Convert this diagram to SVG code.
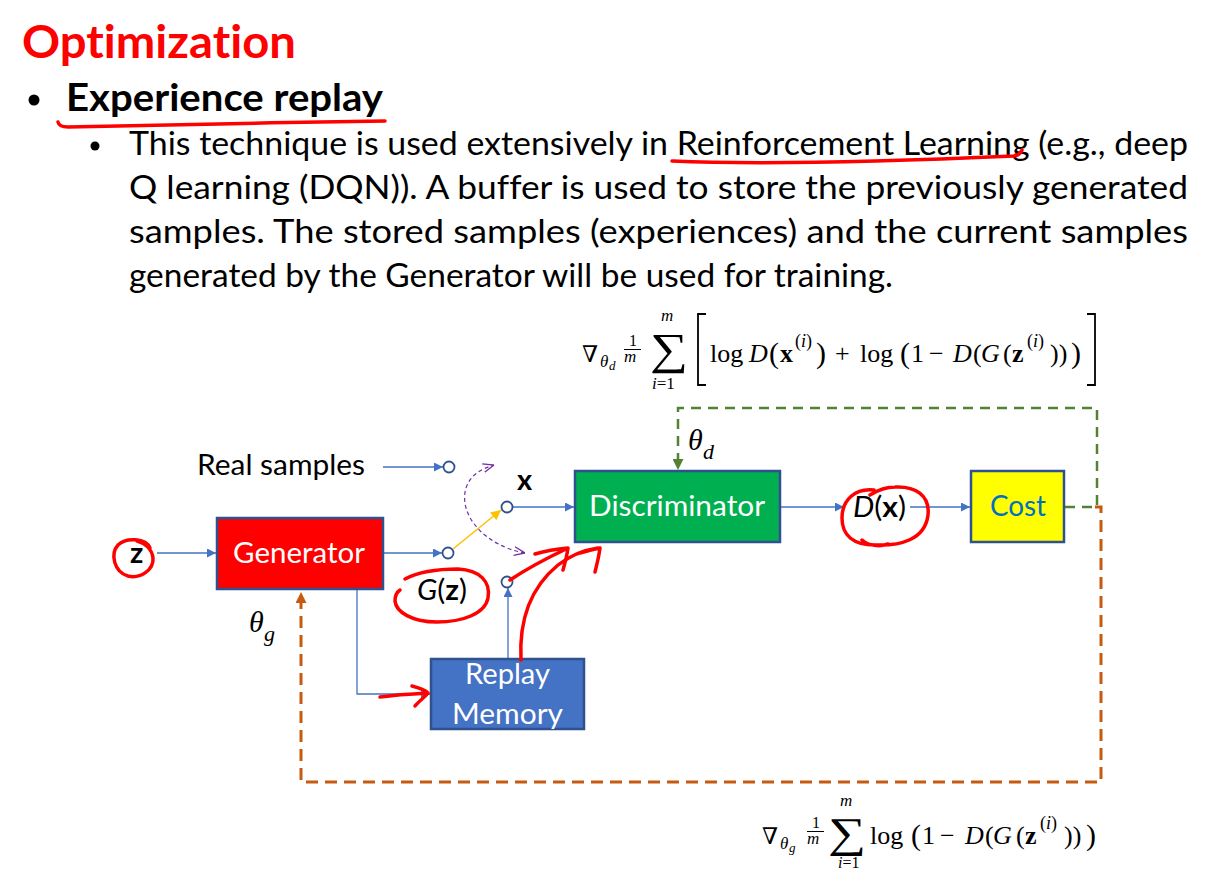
<svg xmlns="http://www.w3.org/2000/svg" width="1224" height="872" viewBox="0 0 1224 872">
<defs>
<style>
.t{font-family:Lato,"Liberation Sans",sans-serif;font-variant-ligatures:none}
.body{font-size:32px;fill:#000}
.lbl{font-size:29px}
.w{fill:#fff}
.m{font-family:"Liberation Serif","DejaVu Serif",serif;fill:#000}
.i{font-style:italic}
.b{font-weight:bold}
.box{stroke:#2F528F;stroke-width:2.5}
.ln{stroke:#4472C4;stroke-width:1.3;fill:none}
.pt{fill:#fff;stroke:#2F528F;stroke-width:1.8}
.ink{fill:none;stroke:#FF0000;stroke-width:3.5;stroke-linecap:round;stroke-linejoin:round}
</style>
<marker id="ab" viewBox="0 0 10 10" refX="10" refY="5" markerWidth="10" markerHeight="9" markerUnits="userSpaceOnUse" orient="auto"><path d="M0,0 L10,5 L0,10 z" fill="#4472C4"/></marker>
<marker id="ay" viewBox="0 0 10 10" refX="10" refY="5" markerWidth="11" markerHeight="10" markerUnits="userSpaceOnUse" orient="auto"><path d="M0,0 L10,5 L0,10 z" fill="#FFC000"/></marker>
<marker id="ag" viewBox="0 0 10 10" refX="10" refY="5" markerWidth="11" markerHeight="11" markerUnits="userSpaceOnUse" orient="auto"><path d="M0,0 L10,5 L0,10 z" fill="#548235"/></marker>
<marker id="ao" viewBox="0 0 10 10" refX="10" refY="5" markerWidth="11" markerHeight="11" markerUnits="userSpaceOnUse" orient="auto"><path d="M0,0 L10,5 L0,10 z" fill="#C55A11"/></marker>
<marker id="ap" viewBox="0 0 10 10" refX="10" refY="5" markerWidth="11" markerHeight="11" markerUnits="userSpaceOnUse" orient="auto-start-reverse"><path d="M0,1 L10,5 L0,9" fill="none" stroke="#7030A0" stroke-width="1.2" stroke-dasharray="none"/></marker>
</defs>
<rect width="1224" height="872" fill="#fff"/>

<g id="header">
<text class="t" x="22" y="58" font-size="46" font-weight="bold" fill="#FF0000" textLength="274" lengthAdjust="spacingAndGlyphs">Optimization</text>
<circle cx="34" cy="100" r="5.5" fill="#000"/>
<text class="t" x="66" y="111" font-size="38" font-weight="bold" fill="#000" textLength="317" lengthAdjust="spacingAndGlyphs">Experience replay</text>
<path class="ink" d="M58,122 Q59,127 68,127 C150,126 280,122 385,121" stroke-width="2.5"/>
<circle cx="95" cy="146" r="4.5" fill="#000"/>
<text class="t body" x="129" y="155" textLength="1059" lengthAdjust="spacingAndGlyphs">This technique is used extensively in Reinforcement Learning (e.g., deep</text>
<text class="t body" x="129" y="199" textLength="1059" lengthAdjust="spacingAndGlyphs">Q learning (DQN)). A buffer is used to store the previously generated</text>
<text class="t body" x="129" y="243" textLength="1059" lengthAdjust="spacingAndGlyphs">samples. The stored samples (experiences) and the current samples</text>
<text class="t body" x="129" y="287" textLength="764" lengthAdjust="spacingAndGlyphs">generated by the Generator will be used for training.</text>
<path class="ink" d="M672,161 C760,165 900,161 1014,156 Q1020,155 1022,150" stroke-width="2.5"/>
</g>

<g id="formula-d" class="m">
<text font-size="26">
<tspan x="582" y="362" font-size="23">∇</tspan>
<tspan x="600" y="367" font-size="17" class="i">θ</tspan>
<tspan x="609" y="370" font-size="13" class="i">d</tspan>
<tspan x="629" y="346" font-size="16">1</tspan>
<tspan x="624" y="362" font-size="17" class="i">m</tspan>
<tspan x="661" y="321" font-size="17" class="i">m</tspan>
<tspan x="652" y="389" font-size="17"><tspan class="i">i</tspan>=1</tspan>
<tspan x="710" y="362">log</tspan>
<tspan x="749" y="362" class="i">D</tspan>
<tspan x="769" y="363" font-size="30">(</tspan>
<tspan x="780" y="362" class="b">x</tspan>
<tspan x="795" y="347" font-size="18">(<tspan class="i">i</tspan>)</tspan>
<tspan x="816" y="363" font-size="30">)</tspan>
<tspan x="835" y="362">+</tspan>
<tspan x="860" y="362">log</tspan>
<tspan x="900" y="363" font-size="30">(</tspan>
<tspan x="911" y="362">1</tspan>
<tspan x="929" y="362">−</tspan>
<tspan x="953" y="362" class="i">D</tspan>
<tspan x="973" y="362">(</tspan>
<tspan x="981" y="362" class="i">G</tspan>
<tspan x="1003" y="362">(</tspan>
<tspan x="1012" y="362" class="b">z</tspan>
<tspan x="1027" y="347" font-size="18">(<tspan class="i">i</tspan>)</tspan>
<tspan x="1050" y="362">))</tspan>
<tspan x="1071" y="363" font-size="30">)</tspan>
</text>
<line x1="624" y1="349.5" x2="641" y2="349.5" stroke="#000" stroke-width="1"/>
<text x="650" y="364" font-size="44" textLength="38" lengthAdjust="spacingAndGlyphs">∑</text>
<path d="M706,314 H698 V385 H706 M1087,314 H1095 V385 H1087" fill="none" stroke="#000" stroke-width="1.8"/>
</g>

<g id="formula-g" class="m">
<text font-size="26">
<tspan x="762" y="844" font-size="23">∇</tspan>
<tspan x="780" y="849" font-size="17" class="i">θ</tspan>
<tspan x="789" y="852" font-size="13" class="i">g</tspan>
<tspan x="812" y="828" font-size="16">1</tspan>
<tspan x="807" y="844" font-size="17" class="i">m</tspan>
<tspan x="840" y="806" font-size="17" class="i">m</tspan>
<tspan x="838" y="868" font-size="16"><tspan class="i">i</tspan>=1</tspan>
<tspan x="870" y="844">log</tspan>
<tspan x="911" y="845" font-size="30">(</tspan>
<tspan x="922" y="844">1</tspan>
<tspan x="940" y="844">−</tspan>
<tspan x="965" y="844" class="i">D</tspan>
<tspan x="985" y="844">(</tspan>
<tspan x="993" y="844" class="i">G</tspan>
<tspan x="1016" y="844">(</tspan>
<tspan x="1025" y="844" class="b">z</tspan>
<tspan x="1040" y="829" font-size="18">(<tspan class="i">i</tspan>)</tspan>
<tspan x="1064" y="844">))</tspan>
<tspan x="1086" y="845" font-size="30">)</tspan>
</text>
<line x1="807" y1="831.5" x2="824" y2="831.5" stroke="#000" stroke-width="1"/>
<text x="828" y="847" font-size="42" textLength="38" lengthAdjust="spacingAndGlyphs">∑</text>
</g>

<g id="connectors">
<line class="ln" x1="157" y1="553" x2="216" y2="553" marker-end="url(#ab)"/>
<line class="ln" x1="383" y1="553" x2="442" y2="553" marker-end="url(#ab)"/>
<line class="ln" x1="383" y1="467" x2="443" y2="467" marker-end="url(#ab)"/>
<line x1="453" y1="549" x2="501" y2="510" stroke="#FFC000" stroke-width="1.5" marker-end="url(#ay)"/>
<line class="ln" x1="513" y1="507" x2="574" y2="507" marker-end="url(#ab)"/>
<line class="ln" x1="508" y1="659" x2="508" y2="588" marker-end="url(#ab)"/>
<polyline class="ln" points="357,589 357,694 430,694" marker-end="url(#ab)"/>
<line class="ln" x1="780" y1="507" x2="844" y2="507" marker-end="url(#ab)"/>
<line class="ln" x1="910" y1="507" x2="970" y2="507" marker-end="url(#ab)"/>
<path d="M1065,507 H1097 V408 H678 V470" fill="none" stroke="#548235" stroke-width="2.5" stroke-dasharray="10 7" marker-end="url(#ag)"/>
<path d="M1095,507 H1101 V782 H301 V592" fill="none" stroke="#C55A11" stroke-width="3" stroke-dasharray="12 7" marker-end="url(#ao)"/>
<path d="M525,553 C485,546 458,515 466,488 C470,476 480,469 494,465" fill="none" stroke="#7030A0" stroke-width="1.2" stroke-dasharray="4 3" marker-start="url(#ap)" marker-end="url(#ap)"/>
</g>

<g id="real-samples"><text class="t lbl" x="197" y="475" textLength="168" lengthAdjust="spacingAndGlyphs">Real samples</text></g>
<g id="switch-real"><circle class="pt" cx="449" cy="467" r="5.5"/></g>
<g id="switch-fake"><circle class="pt" cx="448" cy="553" r="5.5"/></g>
<g id="switch-x"><circle class="pt" cx="507" cy="507" r="5.5"/><text class="t lbl b" x="517" y="490">x</text></g>
<g id="switch-replay"><circle class="pt" cx="507" cy="582" r="5.5"/></g>

<g id="z"><text class="t lbl b" x="130" y="563">z</text>
<path class="ink" d="M150,548 C146,538 126,537 118,545 C110,554 114,572 128,576 C140,579 154,570 153,558 C152,549 145,543 137,541"/></g>

<g id="generator"><rect class="box" x="217" y="518" width="166" height="71" fill="#FF0000"/>
<text class="t lbl w" x="233" y="563" textLength="132" lengthAdjust="spacingAndGlyphs">Generator</text></g>

<g id="gz"><text class="t lbl" x="417" y="600" textLength="50" lengthAdjust="spacingAndGlyphs"><tspan class="i">G</tspan>(<tspan class="b">z</tspan>)</text>
<path class="ink" d="M405,579 C420,571 440,569 458,569 C480,570 491,582 488,598 C485,614 462,622 437,622 C412,622 396,612 395,601 C395,596 397,592 400,590"/></g>

<g id="theta-g"><text class="m i" x="249" y="632" font-size="30">θ</text><text class="m i" x="264" y="641" font-size="22">g</text></g>
<g id="theta-d"><text class="m i" x="688" y="450" font-size="30">θ</text><text class="m i" x="703" y="459" font-size="22">d</text></g>

<g id="discriminator"><rect class="box" x="575" y="471" width="205" height="71" fill="#00B050"/>
<text class="t lbl w" x="589" y="516" textLength="176" lengthAdjust="spacingAndGlyphs">Discriminator</text></g>

<g id="dx"><text class="t lbl" x="853" y="517" textLength="53" lengthAdjust="spacingAndGlyphs"><tspan class="i">D</tspan>(<tspan class="b">x</tspan>)</text>
<path class="ink" d="M874,490 C855,488 842,500 842,518 C842,535 853,545 875,545 C900,546 925,540 928,515 C930,495 915,486 895,487 C885,487 878,490 870,495 M862,540 C868,546 880,547 888,544"/></g>

<g id="cost"><rect class="box" x="971" y="471" width="93" height="71" fill="#FFFF00"/>
<text class="t lbl" x="990" y="516" fill="#0070C0" textLength="56" lengthAdjust="spacingAndGlyphs">Cost</text></g>

<g id="replay-memory"><rect class="box" x="431" y="659" width="153" height="70" fill="#4472C4"/>
<text class="t lbl w" x="465" y="684" textLength="85" lengthAdjust="spacingAndGlyphs">Replay</text>
<text class="t lbl w" x="452" y="724" textLength="111" lengthAdjust="spacingAndGlyphs">Memory</text></g>

<g id="ink-arrows">
<path class="ink" d="M380,697 C395,695 410,694 428,693 M412,686 C420,688 425,690 428,693 C424,698 418,702 415,706"/>
<path class="ink" d="M510,580 C525,570 545,559 566,549 M535,554 C545,551 556,549 568,548 C567,555 565,563 563,570"/>
<path class="ink" d="M521,660 C519,622 530,588 558,565 C572,554 585,550 598,548 M580,553 C587,551 594,549 600,548 C599,556 597,564 595,572"/>
</g>
</svg>
